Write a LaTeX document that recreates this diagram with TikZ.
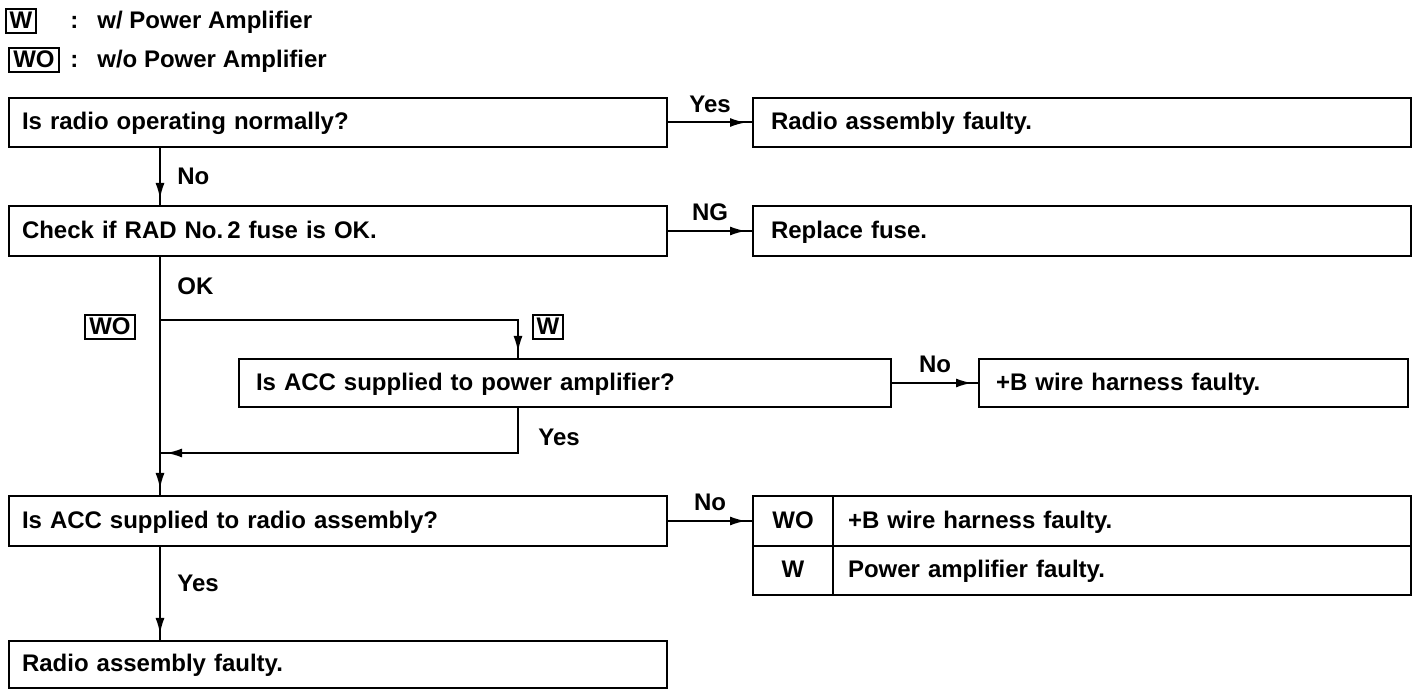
\documentclass[tikz,border=0pt]{standalone}
\usepackage{fontspec}
\setmainfont{Liberation Sans}
\usetikzlibrary{arrows.meta,decorations.markings}
\begin{document}
\begin{tikzpicture}[x=0.5pt,y=-0.5pt,
  every node/.style={font=\fontsize{12}{14}\selectfont\bfseries},
  box/.style={draw, line width=1pt, anchor=north west, inner xsep=6.5pt, inner ysep=0pt,
    text height=0.716em, text depth=0pt, align=left},
  cell/.style={draw, line width=1pt, anchor=north west, inner sep=0pt,
    text height=0.716em, text depth=0pt, align=center, minimum width=40pt},
  lbl/.style={inner sep=0pt, text height=0.716em, text depth=0pt},
  tag/.style={draw, line width=0.9pt, inner xsep=2pt, inner ysep=2.5pt, text height=0.716em, text depth=0pt},
  conn/.style={draw, line width=1pt, postaction={decorate},
    decoration={markings, mark=at position -3pt with {\arrow{Latex[length=8pt,width=4.5pt]}}}},
  plain/.style={draw, line width=1pt}
]
\useasboundingbox (0,0) rectangle (1424,694);

% legend
\node[tag] (tw) at (21,21) {W};
\node[lbl, anchor=west] (c1) at (70,21) {:};
\node[lbl, anchor=west] (l1) at (97,21) {w/ Power Amplifier};
\node[tag] (two) at (34,60) {WO};
\node[lbl, anchor=west] (c2) at (70,60) {:};
\node[lbl, anchor=west] (l2) at (97,60) {w/o Power Amplifier};

% boxes
\node[box, text width=316pt, minimum height=24.5pt] (q1) at (8,97) {Is radio operating normally?};
\node[box, inner xsep=9pt, text width=311pt, minimum height=24.5pt] (r1) at (752,97) {Radio assembly faulty.};
\node[box, text width=316pt, minimum height=25pt] (q2) at (8,205) {Check if RAD No.\,2 fuse is OK.};
\node[box, inner xsep=9pt, text width=311pt, minimum height=25pt] (r2) at (752,205) {Replace fuse.};
\node[box, inner xsep=8.5pt, text width=309pt, minimum height=24pt] (q3) at (238,358) {Is ACC supplied to power amplifier?};
\node[box, inner xsep=8.5pt, text width=197.5pt, minimum height=24pt] (r3) at (978,358) {+B wire harness faulty.};
\node[box, text width=316pt, minimum height=25pt] (q4) at (8,495) {Is ACC supplied to radio assembly?};
\node[cell, minimum height=25pt] (r4a) at (752,495) {WO};
\node[box, inner xsep=7.5pt, text width=274pt, minimum height=25pt] (r4b) at (832,495) {+B wire harness faulty.};
\node[cell, minimum height=24.5pt] (r4c) at (752,545) {W};
\node[box, inner xsep=7.5pt, text width=274pt, minimum height=24.5pt] (r4d) at (832,545) {Power amplifier faulty.};
\node[box, text width=316pt, minimum height=23.5pt] (q5) at (8,640) {Radio assembly faulty.};

% coordinates
\coordinate (tx) at (160,0);
\coordinate (wx) at (518,0);
\coordinate (b1) at (160,320);
\coordinate (j1) at (160,453);

% connectors
\draw[conn] (q1.east) -- node[lbl, midway, above=4.5pt] (ly1) {Yes} (r1.west);
\draw[conn] (q1.south -| tx) -- (q2.north -| tx);
\node[lbl, anchor=west] (ln1) at (177,177) {No};
\draw[conn] (q2.east) -- node[lbl, midway, above=4.5pt] (lng) {NG} (r2.west);
\draw[conn] (q2.south -| tx) -- (q4.north -| tx);
\node[lbl, anchor=west] (lok) at (177,287) {OK};
\draw[conn] (b1) -| (q3.north -| wx);
\node[tag] (tw2) at (548,327) {W};
\node[tag] (two2) at (110,327) {WO};
\draw[conn] (q3.east) -- node[lbl, midway, above=4.5pt] (ln2) {No} (r3.west);
\draw[conn] (q3.south -| wx) |- (j1);
\node[lbl, anchor=west] (ly2) at (538,438) {Yes};
\draw[conn] (q4.east) -- node[lbl, midway, above=4.5pt] (ln3) {No} (r4a.west);
\draw[conn] (q4.south -| tx) -- (q5.north -| tx);
\node[lbl, anchor=west] (ly3) at (177,584) {Yes};
\end{tikzpicture}
\end{document}
